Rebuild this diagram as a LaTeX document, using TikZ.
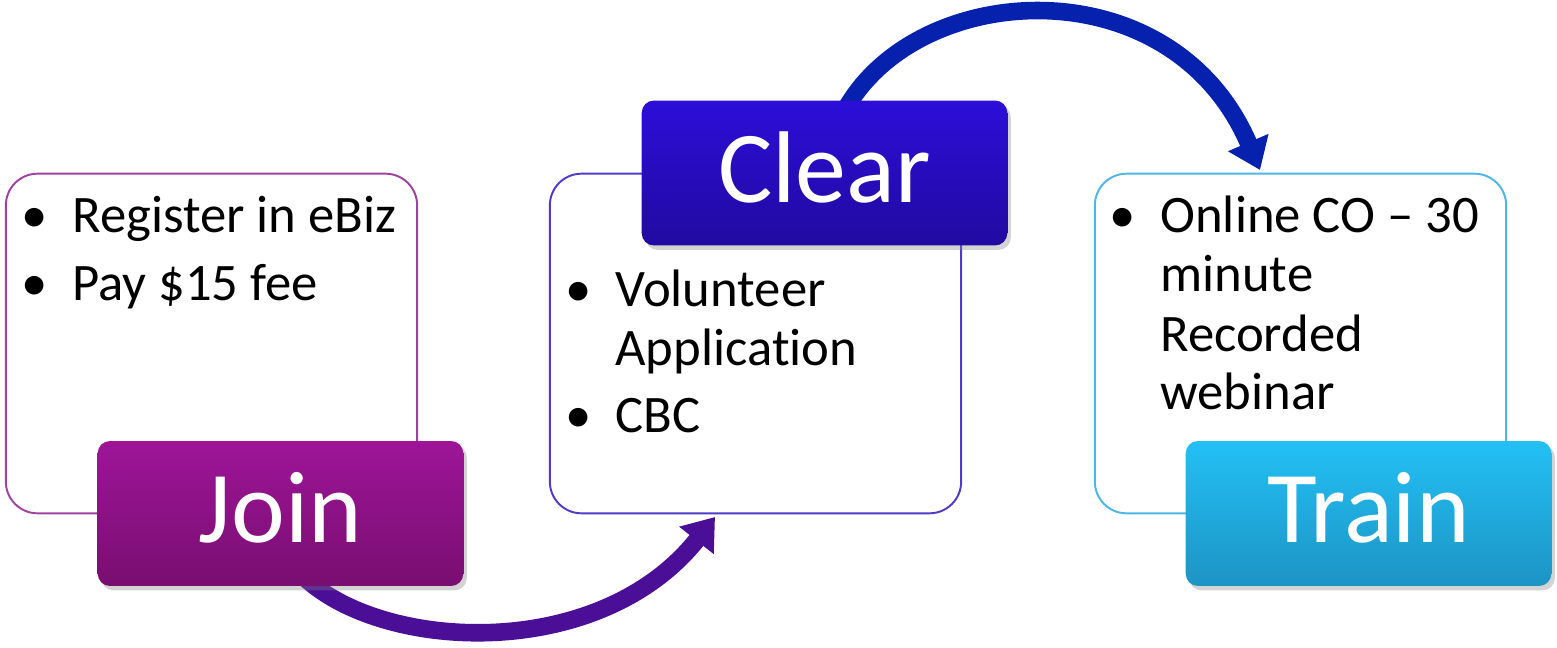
\documentclass[tikz,border=0pt]{standalone}
\usepackage{fontspec}
\setmainfont{Carlito}[Ligatures=NoCommon]
\usetikzlibrary{arrows.meta,shadows}
\definecolor{joinTop}{HTML}{9E1598}
\definecolor{joinBot}{HTML}{780E70}
\definecolor{clearTop}{HTML}{2C0ED8}
\definecolor{clearBot}{HTML}{210AA0}
\definecolor{trainTop}{HTML}{23C0F5}
\definecolor{trainBot}{HTML}{1C94C4}
\definecolor{edgeA}{HTML}{A040A0}
\definecolor{edgeB}{HTML}{4E3ACB}
\definecolor{edgeC}{HTML}{4CB6E6}
\definecolor{arrA}{HTML}{4B0E96}
\definecolor{arrB}{HTML}{0621AE}
\begin{document}
\begin{tikzpicture}[x=0.02cm,y=-0.02cm,
  infobox/.style={draw, fill=white, line width=1.1pt, rounded corners=18pt,
    minimum width=234.1pt, minimum height=193.3pt, inner sep=0, outer sep=0},
  tag/.style={rounded corners=7pt, minimum width=208.1pt, minimum height=82.5pt,
    inner sep=0, outer sep=0, text=white, font=\fontsize{58}{60}\selectfont,
    text height=33.5pt, text depth=0pt,
    drop shadow={opacity=0.35, shadow xshift=2pt, shadow yshift=-2.5pt}},
  txt/.style={anchor=base west, inner sep=0, font=\fontsize{30}{35}\selectfont},
  bul/.style={anchor=base, inner sep=0, font=\fontsize{30}{35}\selectfont},
  flow/.style={line width=10pt, -{Triangle[length=17pt,width=24pt]}},
]
\useasboundingbox (0,0) rectangle (1557,648);

% text boxes
\node[infobox, draw=edgeA] (box1) at (211.5,343.5) {};
\node[infobox, draw=edgeB] (box2) at (755.5,343.5) {};
\node[infobox, draw=edgeC] (box3) at (1300.5,343.5) {};

% box 1 text
\node[bul] (b1a) at (35,233) {\textbullet};
\node[txt] (t1a) at (72,233) {Register in eBiz};
\node[bul] (b1b) at (35,300) {\textbullet};
\node[txt] (t1b) at (72,300) {Pay \$15 fee};

% box 2 text
\node[bul] (b2a) at (579,307) {\textbullet};
\node[txt] (t2a) at (615,307) {Volunteer};
\node[txt] (t2b) at (615,365) {Application};
\node[bul] (b2b) at (579,432) {\textbullet};
\node[txt] (t2c) at (615,432) {CBC};

% box 3 text
\node[bul] (b3a) at (1123,233) {\textbullet};
\node[txt] (t3a) at (1160,233) {Online CO – 30};
\node[txt] (t3b) at (1160,292) {minute};
\node[txt] (t3c) at (1160,351) {Recorded};
\node[txt] (t3d) at (1160,409) {webinar};

% connectors
\coordinate (a1s) at (305,578);
\coordinate (a1e) at (715,517);
\coordinate (a2s) at (840,120);
\coordinate (a2e) at (1260,170);
\draw[flow, arrA] (a1s) .. controls (385,652) and (600,662) .. (a1e);
\draw[flow, arrB] (a2s) .. controls (905,-20) and (1170,-40) .. (a2e);

% tags
\node[tag, top color=joinTop, bottom color=joinBot] (join) at (280.5,513.5) {Join};
\node[tag, top color=clearTop, bottom color=clearBot] (clear) at (824.5,173) {Clear};
\node[tag, top color=trainTop, bottom color=trainBot] (train) at (1368.5,513.5) {Train};
\end{tikzpicture}
\end{document}
